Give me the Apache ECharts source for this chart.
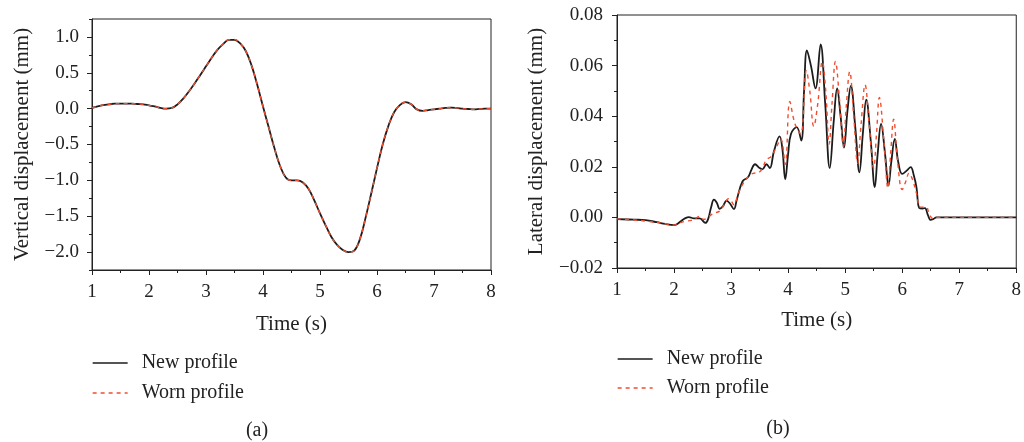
<!DOCTYPE html>
<html>
<head>
<meta charset="utf-8">
<script src="https://cdn.jsdelivr.net/npm/echarts@6/dist/echarts.min.js"></script>
<style>
  html, body { margin: 0; padding: 0; background: #fff; }
  #chart { width: 1024px; height: 442px; }
</style>
</head>
<body>
<div id="chart"></div>
<script>
// (a) vertical displacement, sampled every 0.1 s
const vertTime = [1.0,1.1,1.2,1.3,1.4,1.5,1.6,1.7,1.8,1.9,2.0,2.1,2.2,2.3,2.4,2.5,2.6,2.7,2.8,2.9,
  3.0,3.1,3.2,3.3,3.4,3.5,3.6,3.7,3.8,3.9,4.0,4.1,4.2,4.3,4.4,4.5,4.6,4.7,4.8,4.9,
  5.0,5.1,5.2,5.3,5.4,5.5,5.6,5.7,5.8,5.9,6.0,6.1,6.2,6.3,6.4,6.5,6.6,6.7,6.8,6.9,
  7.0,7.1,7.2,7.3,7.4,7.5,7.6,7.7,7.8,7.9,8.0];
const vertNew = [0.01,0.03,0.05,0.06,0.07,0.07,0.07,0.07,0.065,0.06,0.045,0.03,0.01,0.0,0.01,0.06,0.14,0.24,0.35,0.47,
  0.59,0.71,0.82,0.9,0.96,0.96,0.91,0.8,0.6,0.33,0.03,-0.26,-0.55,-0.8,-0.96,-1.0,-1.0,-1.03,-1.12,-1.28,
  -1.46,-1.63,-1.79,-1.9,-1.97,-2.0,-1.98,-1.82,-1.52,-1.18,-0.83,-0.5,-0.24,-0.05,0.05,0.09,0.06,-0.01,-0.03,-0.02,
  -0.01,0.0,0.01,0.015,0.01,0.0,-0.005,-0.01,-0.005,0.0,0.0];
const vertWorn = [0.01,0.03,0.05,0.06,0.07,0.07,0.07,0.07,0.065,0.06,0.045,0.03,0.01,0.0,0.01,0.06,0.14,0.24,0.35,0.47,
  0.59,0.71,0.82,0.9,0.96,0.965,0.91,0.8,0.6,0.33,0.03,-0.26,-0.55,-0.8,-0.96,-1.0,-1.0,-1.03,-1.12,-1.28,
  -1.46,-1.63,-1.79,-1.9,-1.97,-2.0,-1.98,-1.82,-1.52,-1.18,-0.83,-0.5,-0.24,-0.05,0.05,0.09,0.06,-0.01,-0.03,-0.02,
  -0.01,0.0,0.01,0.015,0.01,0.0,-0.005,-0.01,-0.005,0.0,0.0];

// (b) lateral displacement
const latNewTime = [1.0,1.3,1.5,1.7,1.85,2.0,2.05,2.12,2.2,2.26,2.35,2.45,2.55,2.6,2.65,2.7,2.75,2.8,2.86,2.92,
  2.98,3.05,3.1,3.2,3.3,3.36,3.42,3.5,3.55,3.62,3.68,3.75,3.85,3.9,3.95,4.0,4.05,4.15,4.23,4.28,
  4.33,4.4,4.48,4.57,4.65,4.73,4.8,4.86,4.92,4.98,5.04,5.1,5.18,5.25,5.31,5.37,5.45,5.52,5.57,5.63,
  5.7,5.76,5.81,5.87,5.93,6.0,6.08,6.15,6.2,6.25,6.3,6.36,6.4,6.45,6.5,6.55,6.6,7.0,8.0];
const latNew = [-0.0007,-0.0009,-0.0011,-0.0019,-0.0026,-0.003,-0.0027,-0.0015,-0.0003,0.0001,-0.0004,-0.0004,-0.0022,-0.0005,0.004,0.007,0.0058,0.0034,0.0045,0.0066,
  0.0055,0.0033,0.007,0.0142,0.016,0.019,0.021,0.0195,0.019,0.021,0.0195,0.026,0.032,0.027,0.015,0.025,0.033,0.0357,0.0304,0.05,
  0.066,0.06,0.051,0.0684,0.045,0.0195,0.038,0.051,0.04,0.0276,0.042,0.052,0.035,0.0178,0.033,0.0465,0.03,0.012,0.025,0.037,
  0.025,0.0126,0.022,0.031,0.022,0.0172,0.0185,0.0199,0.017,0.012,0.0037,0.0035,0.0037,0.001,-0.001,-0.0006,0.0,0.0,0.0];

const latWornTime = [1.0,1.3,1.6,1.85,2.0,2.1,2.2,2.3,2.38,2.45,2.52,2.58,2.65,2.72,2.8,2.88,2.95,3.0,3.05,3.12,
  3.2,3.35,3.5,3.56,3.62,3.7,3.8,3.87,3.95,4.03,4.12,4.22,4.32,4.38,4.45,4.52,4.6,4.66,4.72,4.77,
  4.83,4.9,4.97,5.02,5.08,5.15,5.22,5.28,5.35,5.42,5.5,5.55,5.6,5.68,5.75,5.8,5.85,5.92,6.0,6.06,
  6.12,6.18,6.25,6.32,6.42,6.48,6.55,6.62,7.0,8.0];
const latWorn = [-0.0006,-0.001,-0.0017,-0.0025,-0.003,-0.0022,-0.0015,-0.0012,-0.0004,0.0004,-0.0008,-0.0003,0.001,0.0018,0.0025,0.005,0.0074,0.0065,0.005,0.009,
  0.013,0.017,0.018,0.02,0.0228,0.024,0.028,0.031,0.021,0.0458,0.037,0.033,0.058,0.05,0.036,0.045,0.0616,0.05,0.029,0.045,
  0.0616,0.047,0.028,0.044,0.0576,0.04,0.0214,0.037,0.0524,0.037,0.0195,0.033,0.0474,0.03,0.0116,0.026,0.0388,0.022,0.011,0.014,
  0.0175,0.015,0.0096,0.004,0.004,0.001,-0.0006,0.0,0.0,0.0];

// axis ticks
const timeTicks = { min: 1, max: 8, interval: 1 };
const vertTicks = [-2.0, -1.5, -1.0, -0.5, 0.0, 0.5, 1.0];
const vertRange = { min: -2.25, max: 1.25, minorInterval: 0.25 };
const latTicks = { min: -0.02, max: 0.08, interval: 0.02 };
const seriesNames = ['New profile', 'Worn profile'];
const panelLabels = ['(a)', '(b)'];

const FONT = 'Liberation Serif';
const INK = '#222';
const NEW_COLOR = '#1c1c1c';
const WORN_COLOR = '#f04e30';
const TICK_FONT = 19;
const NAME_FONT = 21;

const zip = (xs, ys) => xs.map((x, i) => [x, ys[i]]);
const minus = s => s.replace('-', '\u2212');

function timeAxis(gridIndex, nameGap) {
  return {
    type: 'value', gridIndex,
    min: timeTicks.min, max: timeTicks.max, interval: timeTicks.interval,
    name: 'Time (s)', nameLocation: 'middle', nameGap,
    nameTextStyle: { fontFamily: FONT, fontSize: NAME_FONT, color: INK },
    axisLine: { onZero: false, lineStyle: { color: INK, width: 1 } },
    axisTick: { show: true, length: 5, lineStyle: { color: INK } },
    minorTick: { show: true, splitNumber: 2, length: 3, lineStyle: { color: INK } },
    axisLabel: { fontFamily: FONT, fontSize: TICK_FONT, color: INK, margin: 13 },
    splitLine: { show: false }
  };
}

const option = {
  animation: false,
  backgroundColor: '#fff',
  grid: [
    { left: 92, top: 19, width: 399, height: 251, show: true, borderColor: INK, borderWidth: 1 },
    { left: 617, top: 15, width: 402, height: 253, show: true, borderColor: INK, borderWidth: 1 }
  ],
  xAxis: [timeAxis(0, 44), timeAxis(1, 42)],
  yAxis: [
    // (a) axis line with the short quarter ticks
    {
      type: 'value', gridIndex: 0, min: vertRange.min, max: vertRange.max, interval: vertRange.minorInterval,
      axisLine: { show: true, onZero: false, lineStyle: { color: INK, width: 1 } },
      axisTick: { show: true, length: 3, lineStyle: { color: INK } },
      axisLabel: { show: false },
      splitLine: { show: false }
    },
    // (a) labelled half-unit ticks and axis name
    {
      type: 'value', gridIndex: 0, position: 'left', min: vertRange.min, max: vertRange.max,
      name: 'Vertical displacement (mm)', nameLocation: 'middle', nameGap: 59,
      nameTextStyle: { fontFamily: FONT, fontSize: NAME_FONT, color: INK },
      axisLine: { show: false, onZero: false },
      axisTick: { show: true, length: 5, customValues: vertTicks, lineStyle: { color: INK } },
      axisLabel: { fontFamily: FONT, fontSize: TICK_FONT, color: INK, margin: 13,
        customValues: vertTicks, formatter: v => minus(v.toFixed(1)) },
      splitLine: { show: false }
    },
    // (b)
    {
      type: 'value', gridIndex: 1, min: latTicks.min, max: latTicks.max, interval: latTicks.interval,
      name: 'Lateral displacement (mm)', nameLocation: 'middle', nameGap: 70,
      nameTextStyle: { fontFamily: FONT, fontSize: NAME_FONT, color: INK },
      axisLine: { show: true, onZero: false, lineStyle: { color: INK, width: 1 } },
      axisTick: { show: true, length: 5, lineStyle: { color: INK } },
      minorTick: { show: true, splitNumber: 2, length: 3, lineStyle: { color: INK } },
      axisLabel: { fontFamily: FONT, fontSize: TICK_FONT, color: INK, margin: 14, formatter: v => minus(v.toFixed(2)) },
      splitLine: { show: false }
    }
  ],
  legend: [
    {
      orient: 'vertical', left: 87, top: 348, itemWidth: 35, itemHeight: 20, itemGap: 10,
      data: seriesNames.map(n => ({ name: n })),
      itemStyle: { opacity: 0 },
      lineStyle: { width: 1.3 },
      textStyle: { fontFamily: FONT, fontSize: 20, color: INK, padding: [0, 0, 0, 9] }
    },
    {
      orient: 'vertical', left: 612, top: 344, itemWidth: 35, itemHeight: 20, itemGap: 9,
      data: seriesNames.map(n => ({ name: n })),
      itemStyle: { opacity: 0 },
      lineStyle: { width: 1.3 },
      textStyle: { fontFamily: FONT, fontSize: 20, color: INK, padding: [0, 0, 0, 9] }
    }
  ],
  title: [
    { text: panelLabels[0], left: 252, top: 416, textAlign: 'center',
      textStyle: { fontFamily: FONT, fontSize: 20, fontWeight: 'normal', color: INK } },
    { text: panelLabels[1], left: 773, top: 414, textAlign: 'center',
      textStyle: { fontFamily: FONT, fontSize: 20, fontWeight: 'normal', color: INK } }
  ],
  series: [
    { name: seriesNames[0], type: 'line', xAxisIndex: 0, yAxisIndex: 0, symbol: 'none', smooth: 0.4,
      data: zip(vertTime, vertNew), lineStyle: { color: NEW_COLOR, width: 1.8 }, itemStyle: { color: NEW_COLOR } },
    { name: seriesNames[1], type: 'line', xAxisIndex: 0, yAxisIndex: 0, symbol: 'none', smooth: 0.4,
      data: zip(vertTime, vertWorn), lineStyle: { color: WORN_COLOR, width: 1.4, type: [4, 4] }, itemStyle: { color: WORN_COLOR } },
    { name: seriesNames[0], type: 'line', xAxisIndex: 1, yAxisIndex: 2, symbol: 'none', smooth: 0.4,
      data: zip(latNewTime, latNew), lineStyle: { color: NEW_COLOR, width: 1.8 }, itemStyle: { color: NEW_COLOR } },
    { name: seriesNames[1], type: 'line', xAxisIndex: 1, yAxisIndex: 2, symbol: 'none', smooth: 0.4,
      data: zip(latWornTime, latWorn), lineStyle: { color: WORN_COLOR, width: 1.4, type: [4, 4] }, itemStyle: { color: WORN_COLOR } }
  ]
};

const chart = echarts.init(document.getElementById('chart'), null, { renderer: 'canvas' });
chart.setOption(option);
</script>
</body>
</html>
